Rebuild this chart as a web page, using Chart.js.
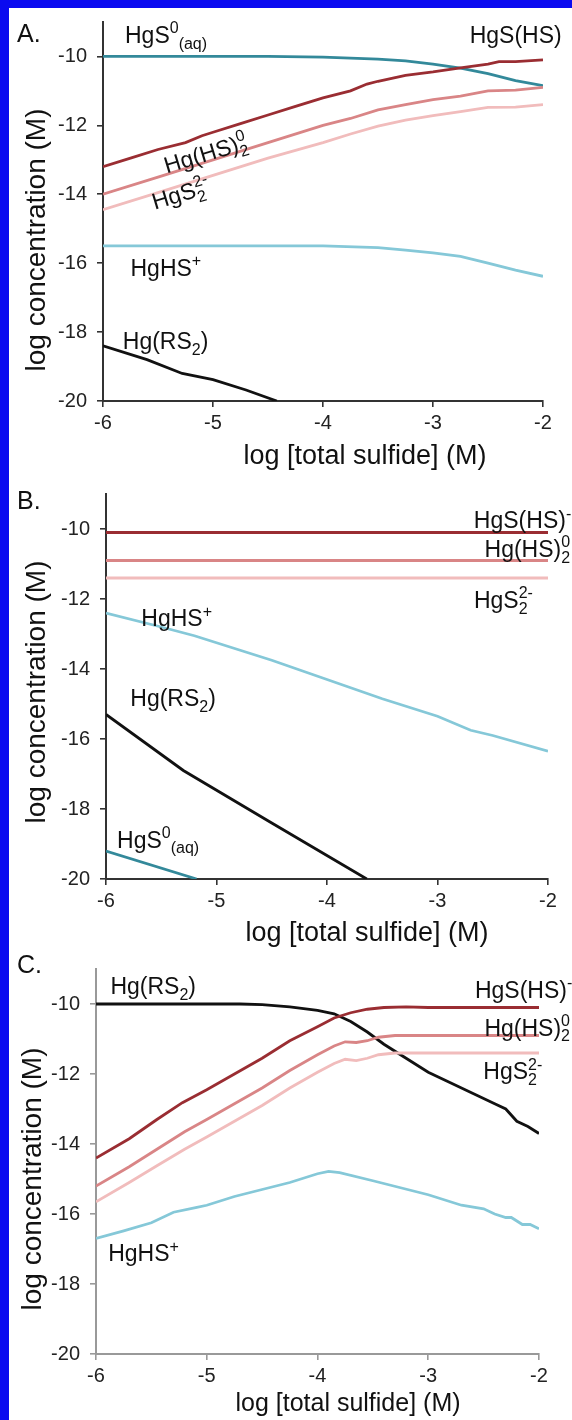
<!DOCTYPE html>
<html lang="en">
<head>
<meta charset="utf-8">
<title>Hg speciation vs log total sulfide</title>
<style>
  body { margin: 0; background: #fff; }
  #wrap { position: relative; width: 572px; height: 1420px; overflow: hidden; background: #fff; }
  .panel { position: absolute; left: 0; }
  .band-top { position: absolute; left: 0; top: 0; width: 572px; height: 8px; background: #0a0af0; }
  .band-left { position: absolute; left: 0; top: 0; width: 9px; height: 1420px; background: #0a0af0; }
</style>
</head>
<body>
<div id="wrap">
  <canvas id="chartA" class="panel" style="top:0" width="572" height="472"></canvas>
  <canvas id="chartB" class="panel" style="top:472px" width="572" height="475"></canvas>
  <canvas id="chartC" class="panel" style="top:947px" width="572" height="473"></canvas>
  <div class="band-top"></div>
  <div class="band-left"></div>
</div>

<script src="https://cdn.jsdelivr.net/npm/chart.js@4.4.1/dist/chart.umd.min.js"></script>
<script>
// ---- panel A ----
const aHgS0x = [-6, -5, -4.5, -4, -3.5, -3.25, -3, -2.75, -2.5, -2.25, -2];
const aHgS0y = [-10.0, -10.0, -10.0, -10.02, -10.08, -10.13, -10.22, -10.34, -10.5, -10.7, -10.85];
const aHgSHSx = [-6, -5.75, -5.5, -5.25, -5.1, -5, -4.75, -4.5, -4.25, -4, -3.75, -3.6, -3.5, -3.25, -3, -2.75, -2.5, -2.4, -2.25, -2];
const aHgSHSy = [-13.2, -12.95, -12.7, -12.5, -12.3, -12.2, -11.95, -11.7, -11.45, -11.2, -11.0, -10.8, -10.72, -10.55, -10.45, -10.33, -10.22, -10.15, -10.15, -10.1];
const aHgHS2x = [-6, -5.5, -5, -4.5, -4, -3.75, -3.5, -3.25, -3, -2.75, -2.5, -2.25, -2];
const aHgHS2y = [-14.0, -13.5, -13.0, -12.5, -12.0, -11.8, -11.55, -11.4, -11.25, -11.15, -11.0, -10.98, -10.9];
const aHgS2x = [-6, -5.5, -5, -4.5, -4, -3.75, -3.5, -3.25, -3, -2.75, -2.5, -2.25, -2];
const aHgS2y = [-14.45, -13.95, -13.45, -12.95, -12.5, -12.25, -12.02, -11.85, -11.72, -11.6, -11.48, -11.47, -11.4];
const aHgHSx = [-6, -5, -4, -3.5, -3.25, -3, -2.75, -2.5, -2.25, -2];
const aHgHSy = [-15.5, -15.5, -15.5, -15.55, -15.62, -15.7, -15.8, -16.0, -16.2, -16.38];
const aHgRSx = [-6, -5.6, -5.28, -5, -4.7, -4.42];
const aHgRSy = [-18.4, -18.8, -19.2, -19.38, -19.68, -20.0];

// ---- panel B ----
const bHgSHSx = [-6, -2];
const bHgSHSy = [-10.1, -10.1];
const bHgHS2x = [-6, -2];
const bHgHS2y = [-10.9, -10.9];
const bHgS2x = [-6, -2];
const bHgS2y = [-11.4, -11.4];
const bHgHSx = [-6, -5.5, -5.2, -5, -4.5, -4, -3.5, -3, -2.7, -2.5, -2];
const bHgHSy = [-12.4, -12.8, -13.05, -13.25, -13.75, -14.3, -14.85, -15.35, -15.75, -15.9, -16.35];
const bHgRSx = [-6, -5.3, -4.5, -3.64];
const bHgRSy = [-15.3, -16.9, -18.4, -20.0];
const bHgS0x = [-6, -5.18];
const bHgS0y = [-19.2, -20.0];

// ---- panel C ----
const cHgRSx = [-6, -5, -4.7, -4.5, -4.25, -4.0, -3.85, -3.7, -3.55, -3.4, -3.2, -3.0, -2.8, -2.6, -2.4, -2.3, -2.2, -2.1, -2.0];
const cHgRSy = [-10.0, -10.0, -10.0, -10.02, -10.08, -10.18, -10.28, -10.5, -10.8, -11.15, -11.55, -11.95, -12.25, -12.55, -12.85, -13.0, -13.35, -13.5, -13.7];
const cHgSHSx = [-6, -5.7, -5.45, -5.22, -5, -4.75, -4.5, -4.25, -4, -3.85, -3.7, -3.55, -3.4, -3.2, -3, -2];
const cHgSHSy = [-14.4, -13.85, -13.3, -12.82, -12.45, -12.0, -11.55, -11.05, -10.65, -10.4, -10.25, -10.15, -10.1, -10.08, -10.1, -10.1];
const cHgHS2x = [-6, -5.7, -5.45, -5.2, -5, -4.75, -4.5, -4.25, -4, -3.85, -3.75, -3.65, -3.55, -3.45, -3.3, -3, -2];
const cHgHS2y = [-15.2, -14.65, -14.15, -13.65, -13.3, -12.85, -12.4, -11.9, -11.45, -11.2, -11.08, -11.1, -11.05, -10.95, -10.9, -10.9, -10.9];
const cHgS2x = [-6, -5.7, -5.45, -5.2, -5, -4.75, -4.5, -4.25, -4, -3.85, -3.75, -3.65, -3.55, -3.45, -3.3, -3, -2];
const cHgS2y = [-15.65, -15.1, -14.62, -14.15, -13.8, -13.35, -12.9, -12.4, -11.95, -11.7, -11.58, -11.62, -11.55, -11.45, -11.4, -11.4, -11.4];
const cHgHSx = [-6, -5.75, -5.5, -5.3, -5.1, -5.0, -4.75, -4.5, -4.25, -4.0, -3.9, -3.8, -3.5, -3.0, -2.7, -2.5, -2.4, -2.3, -2.25, -2.15, -2.08, -2.0];
const cHgHSy = [-16.7, -16.48, -16.25, -15.95, -15.82, -15.75, -15.5, -15.3, -15.1, -14.85, -14.78, -14.82, -15.05, -15.45, -15.75, -15.85, -16.0, -16.1, -16.1, -16.3, -16.3, -16.42];

const xTicks = [-6, -5, -4, -3, -2];
const yTicks = [-20, -18, -16, -14, -12, -10];

const FAMILY = '"Liberation Sans", Arial, sans-serif';
const C_TEAL = '#33899a', C_MAROON = '#9a2d32', C_PINK = '#d98586', C_LPINK = '#f1bcbc', C_BLUE = '#85c8d8', C_BLACK = '#111111';

function pts(xs, ys) { return xs.map((x, i) => ({ x: x, y: ys[i] })); }
function line(xs, ys, color) {
  return { data: pts(xs, ys), borderColor: color, borderWidth: 2.8, pointRadius: 0, fill: false, tension: 0 };
}

// text with sub/superscripts; parts = [text, kind]; kind: '', 'sub', 'sup', 'over' (sup above previous sub)
function drawRich(ctx, parts, x, y, size, align, rot) {
  const small = Math.round(size * 0.68);
  const fnt = s => s + 'px ' + FAMILY;
  let w = 0, lastW = 0;
  parts.forEach(p => {
    ctx.font = fnt(p[1] ? small : size);
    const tw = ctx.measureText(p[0]).width;
    if (p[1] === 'over') w += Math.max(0, tw - lastW); else w += tw;
    lastW = tw;
  });
  ctx.save();
  ctx.translate(x, y);
  ctx.rotate((rot || 0) * Math.PI / 180);
  ctx.fillStyle = '#111';
  ctx.textAlign = 'left';
  ctx.textBaseline = 'alphabetic';
  let cx = align === 'right' ? -w : align === 'center' ? -w / 2 : 0;
  let prevX = cx;
  parts.forEach(p => {
    ctx.font = fnt(p[1] ? small : size);
    const dy = (p[1] === 'sup' || p[1] === 'over') ? -size * 0.42 : p[1] === 'sub' ? size * 0.26 : 0;
    const sx = p[1] === 'over' ? prevX : cx;
    ctx.fillText(p[0], sx, dy);
    const end = sx + ctx.measureText(p[0]).width;
    prevX = sx;
    cx = Math.max(cx, end);
  });
  ctx.restore();
}

// notes: data coords unless px: true
function notes(items) {
  return {
    id: 'notes',
    afterDraw(chart) {
      const ctx = chart.ctx, sx = chart.scales.x, sy = chart.scales.y;
      items.forEach(it => {
        const px = it.px ? it.x : sx.getPixelForValue(it.x);
        const py = it.px ? it.y : sy.getPixelForValue(it.y);
        drawRich(ctx, it.parts, px, py, it.size || 23, it.align, it.rot);
      });
    }
  };
}

function axisTitles(size, xc, xb, yx, yc) {
  return [
    { parts: [['log [total sulfide] (M)', '']], x: xc, y: xb, px: true, size: size, align: 'center' },
    { parts: [['log concentration (M)', '']], x: yx, y: yc, px: true, size: 28, align: 'center', rot: -90 }
  ];
}

function panel(id, datasets, box, axisColor, items) {
  return new Chart(document.getElementById(id), {
    type: 'line',
    data: { datasets: datasets },
    options: {
      responsive: false,
      animation: false,
      devicePixelRatio: 1,
      layout: { padding: { top: box.top, right: box.right, left: 0, bottom: 0 } },
      plugins: { legend: { display: false }, tooltip: { enabled: false } },
      scales: {
        x: {
          type: 'linear', min: -6, max: -2,
          afterFit: s => { s.height = box.xh; },
          afterBuildTicks: s => { s.ticks = xTicks.map(v => ({ value: v })); },
          ticks: { color: '#222', font: { size: 20, family: FAMILY }, padding: 4, maxRotation: 0 },
          grid: { drawOnChartArea: false, color: axisColor, lineWidth: 1.6, tickLength: 6 },
          border: { color: axisColor, width: 2 }
        },
        y: {
          type: 'linear', min: -20, max: -9,
          afterFit: s => { s.width = box.yw; },
          afterBuildTicks: s => { s.ticks = yTicks.map(v => ({ value: v })); },
          ticks: { color: '#222', font: { size: 20, family: FAMILY }, padding: 10 },
          grid: { drawOnChartArea: false, color: axisColor, lineWidth: 1.6, tickLength: 6 },
          border: { color: axisColor, width: 2 }
        }
      }
    },
    plugins: [notes(items)]
  });
}

panel('chartA', [
  line(aHgRSx, aHgRSy, C_BLACK),
  line(aHgHSx, aHgHSy, C_BLUE),
  line(aHgS2x, aHgS2y, C_LPINK),
  line(aHgHS2x, aHgHS2y, C_PINK),
  line(aHgSHSx, aHgSHSy, C_MAROON),
  line(aHgS0x, aHgS0y, C_TEAL)
], { top: 22, right: 29, xh: 71, yw: 103 }, '#333', [
  { parts: [['A.', '']], x: 17, y: 42, px: true, size: 25 },
  { parts: [['HgS', ''], ['0', 'sup'], ['(aq)', 'sub']], x: -5.8, y: -9.6 },
  { parts: [['HgS(HS)', '']], x: -1.83, y: -9.6, align: 'right' },
  { parts: [['Hg(HS)', ''], ['2', 'sub'], ['0', 'over']], x: -5.42, y: -13.4, rot: -17 },
  { parts: [['HgS', ''], ['2', 'sub'], ['2-', 'over']], x: -5.53, y: -14.45, rot: -17 },
  { parts: [['HgHS', ''], ['+', 'sup']], x: -5.75, y: -16.37 },
  { parts: [['Hg(RS', ''], ['2', 'sub'], [')', '']], x: -5.82, y: -18.5 }
].concat(axisTitles(27, 365, 464, 45, 240)));

panel('chartB', [
  line(bHgS0x, bHgS0y, C_TEAL),
  line(bHgRSx, bHgRSy, C_BLACK),
  line(bHgHSx, bHgHSy, C_BLUE),
  line(bHgS2x, bHgS2y, C_LPINK),
  line(bHgHS2x, bHgHS2y, C_PINK),
  line(bHgSHSx, bHgSHSy, C_MAROON)
], { top: 17, right: 24, xh: 68, yw: 106 }, '#333', [
  { parts: [['B.', '']], x: 17, y: 37, px: true, size: 25 },
  { parts: [['HgS(HS)', ''], ['-', 'sup']], x: -1.79, y: -9.98, align: 'right' },
  { parts: [['Hg(HS)', ''], ['2', 'sub'], ['0', 'over']], x: -1.8, y: -10.8, align: 'right' },
  { parts: [['HgS', ''], ['2', 'sub'], ['2-', 'over']], x: -2.67, y: -12.25 },
  { parts: [['HgHS', ''], ['+', 'sup']], x: -5.68, y: -12.78 },
  { parts: [['Hg(RS', ''], ['2', 'sub'], [')', '']], x: -5.78, y: -15.05 },
  { parts: [['HgS', ''], ['0', 'sup'], ['(aq)', 'sub']], x: -5.9, y: -19.1 }
].concat(axisTitles(27, 367, 469, 45, 220)));

panel('chartC', [
  line(cHgHSx, cHgHSy, C_BLUE),
  line(cHgS2x, cHgS2y, C_LPINK),
  line(cHgHS2x, cHgHS2y, C_PINK),
  line(cHgSHSx, cHgSHSy, C_MAROON),
  line(cHgRSx, cHgRSy, C_BLACK)
], { top: 17, right: 33, xh: 66, yw: 96 }, '#999', [
  { parts: [['C.', '']], x: 17, y: 26, px: true, size: 25 },
  { parts: [['Hg(RS', ''], ['2', 'sub'], [')', '']], x: -5.87, y: -9.72 },
  { parts: [['HgS(HS)', ''], ['-', 'sup']], x: -1.7, y: -9.82, align: 'right' },
  { parts: [['Hg(HS)', ''], ['2', 'sub'], ['0', 'over']], x: -1.72, y: -10.9, align: 'right' },
  { parts: [['HgS', ''], ['2', 'sub'], ['2-', 'over']], x: -1.97, y: -12.15, align: 'right' },
  { parts: [['HgHS', ''], ['+', 'sup']], x: -5.89, y: -17.35 }
].concat(axisTitles(25, 348, 464, 41, 232)));
</script>
